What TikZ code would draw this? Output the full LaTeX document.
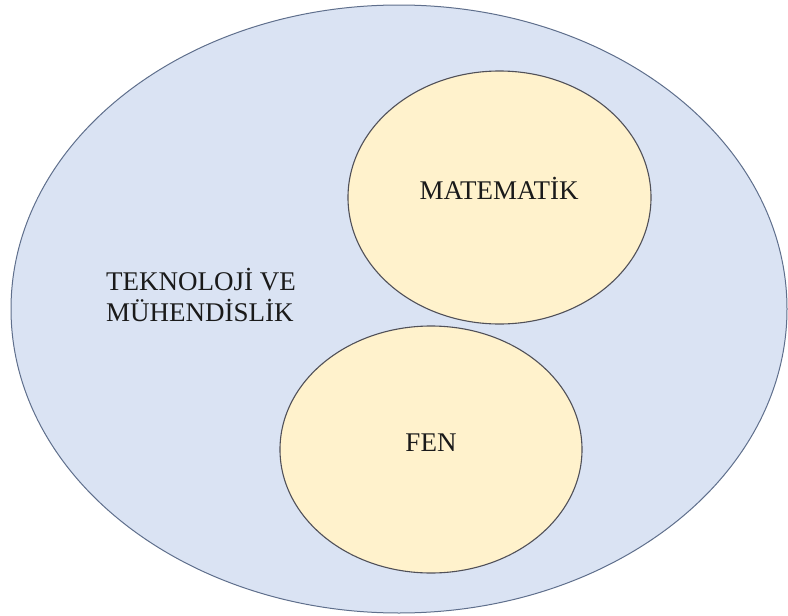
\documentclass[tikz,border=0pt]{standalone}
\usepackage{fontspec}
\setmainfont{Liberation Serif}
\usetikzlibrary{shapes.geometric}
\definecolor{outerfill}{HTML}{DAE3F3}
\definecolor{outeredge}{HTML}{5F6F8C}
\definecolor{innerfill}{HTML}{FFF2CC}
\definecolor{inneredge}{HTML}{505058}
\definecolor{txt}{HTML}{1A1A1A}
\tikzset{
  outerell/.style={ellipse, draw=outeredge, fill=outerfill, line width=1pt, inner sep=0pt},
  innerell/.style={ellipse, draw=inneredge, fill=innerfill, line width=1.1pt, inner sep=0pt},
  lbl/.style={text=txt, font=\fontsize{27}{32}\selectfont, inner sep=0pt, anchor=base},
}
\begin{document}
\begin{tikzpicture}[x=1pt,y=-1pt]
\useasboundingbox (0,0) rectangle (788,616);
\node[outerell, minimum width=776pt, minimum height=608pt] (outer) at (399,309) {};
\node[innerell, minimum width=303pt, minimum height=253pt] (mat) at (499.5,197.5) {};
\node[innerell, minimum width=302pt, minimum height=247pt] (fen) at (431,449.5) {};
\node[lbl] (matl) at (499,199) {MATEMATİK};
\node[lbl] (fenl) at (431,451) {FEN};
\node[lbl, anchor=base west] (tek) at (106,290) {TEKNOLOJİ VE};
\node[lbl, anchor=base west] (muh) at (106,321) {MÜHENDİSLİK};
\end{tikzpicture}
\end{document}
